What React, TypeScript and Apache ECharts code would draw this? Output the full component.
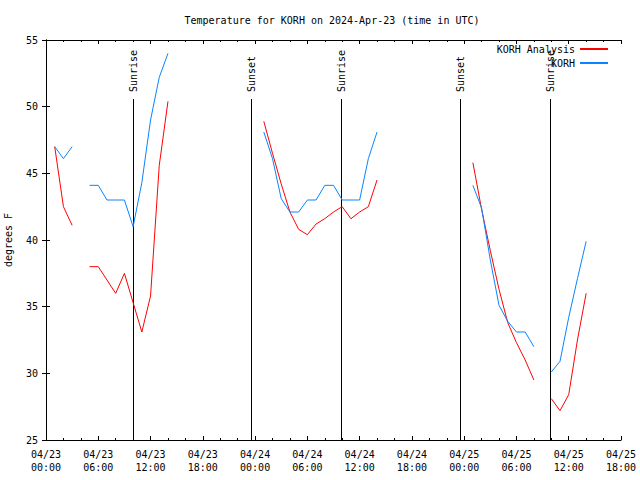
import React, { useEffect, useRef } from "react";
import * as echarts from "echarts";

// Hours since 2024-04-23 00:00 UTC
const hours: number[] = Array.from({ length: 63 }, (_, i) => i);

// KORH Analysis (red)
const analysis: (number | null)[] = [
  null, 47.0, 42.5, 41.1, null, 38.0, 38.0, 37.0, 36.0, 37.5, 35.3, 33.1, 35.8, 45.6, 50.4,
  null, null, null, null, null, null, null, null, null, null,
  48.9, 46.5, 44.2, 42.1, 40.8, 40.4, 41.2, 41.6, 42.1, 42.5, 41.6, 42.1, 42.5, 44.5,
  null, null, null, null, null, null, null, null, null, null,
  45.8, 42.3, 39.2, 36.3, 33.8, 32.3, 31.0, 29.5,
  null,
  28.1, 27.2, 28.4, 32.5, 36.0,
];

// KORH observations (blue)
const observed: (number | null)[] = [
  null, 47.0, 46.1, 47.0, null, 44.1, 44.1, 43.0, 43.0, 43.0, 41.0, 44.3, 49.0, 52.2, 54.0,
  null, null, null, null, null, null, null, null, null, null,
  48.1, 46.1, 43.1, 42.1, 42.1, 43.0, 43.0, 44.1, 44.1, 43.0, 43.0, 43.0, 46.1, 48.1,
  null, null, null, null, null, null, null, null, null, null,
  44.1, 42.4, 38.5, 35.1, 33.9, 33.1, 33.1, 32.0,
  null,
  30.1, 30.9, 34.2, 37.1, 39.9,
];

// Sun events (hours since 2024-04-23 00:00 UTC)
const eventHours: number[] = [9.93, 23.55, 33.9, 47.57, 57.87];
const eventNames: string[] = ["Sunrise", "Sunset", "Sunrise", "Sunset", "Sunrise"];

const seriesNames = ["KORH Analysis", "KORH"];
const seriesColors = ["#ff0000", "#0a84ff"];

const FONT = "DejaVu Sans Mono";
const pad = (n: number) => (n < 10 ? "0" + n : "" + n);

export default function App() {
  const ref = useRef<HTMLDivElement>(null);
  useEffect(() => {
    if (!ref.current) return;
    const chart = echarts.init(ref.current, undefined, { renderer: "svg" });
    const toPairs = (arr: (number | null)[]) =>
      hours.map((h, i) => [h, arr[i] === null ? "-" : arr[i]]);
    const xFmt = (v: number) => {
      const d = new Date(Date.UTC(2024, 3, 23) + v * 3600 * 1000);
      return (
        pad(d.getUTCMonth() + 1) + "/" + pad(d.getUTCDate()) + "\n" +
        pad(d.getUTCHours()) + ":" + pad(d.getUTCMinutes())
      );
    };
    const axisLine = { show: true, lineStyle: { color: "#000", width: 1 } };
    const tickStyle = { color: "#000", width: 1 };
    chart.setOption({
      animation: false,
      backgroundColor: "#fff",
      title: {
        text: "Temperature for KORH on 2024-Apr-23 (time in UTC)",
        left: 332,
        top: 15,
        textAlign: "center",
        padding: 0,
        textStyle: { fontFamily: FONT, fontSize: 10, fontWeight: "normal", color: "#000" },
      },
      legend: {
        data: seriesNames,
        orient: "vertical",
        right: 31,
        top: 44,
        padding: 0,
        align: "right",
        itemWidth: 28,
        itemHeight: 10,
        itemGap: 4,
        itemStyle: { opacity: 0 },
        textStyle: { fontFamily: FONT, fontSize: 10, color: "#000" },
      },
      grid: { left: 46, right: 19, top: 40, bottom: 40, containLabel: false, outerBoundsMode: "none" },
      xAxis: [
        {
          type: "value",
          min: 0,
          max: 66,
          interval: 6,
          position: "bottom",
          axisLine,
          axisTick: { show: true, inside: true, length: 4, lineStyle: tickStyle },
          minorTick: { show: true, splitNumber: 3, length: 2, lineStyle: tickStyle },
          splitLine: { show: false },
          axisLabel: {
            formatter: xFmt,
            fontFamily: FONT,
            fontSize: 10,
            color: "#000",
            lineHeight: 13,
            margin: 8,
          },
        },
        {
          type: "value",
          min: 0,
          max: 66,
          interval: 6,
          position: "top",
          axisLine,
          axisTick: { show: true, inside: true, length: 4, lineStyle: tickStyle },
          minorTick: { show: true, splitNumber: 3, length: 2, lineStyle: tickStyle },
          splitLine: { show: false },
          axisLabel: { show: false },
        },
      ],
      yAxis: [
        {
          type: "value",
          min: 25,
          max: 55,
          interval: 5,
          position: "left",
          name: "degrees F",
          nameLocation: "middle",
          nameRotate: 90,
          nameGap: 33,
          nameTextStyle: { fontFamily: FONT, fontSize: 10, color: "#000" },
          axisLine,
          axisTick: { show: true, inside: true, length: 4, lineStyle: tickStyle },
          splitLine: { show: false },
          axisLabel: { fontFamily: FONT, fontSize: 10, color: "#000", margin: 8 },
        },
        {
          type: "value",
          min: 25,
          max: 55,
          interval: 5,
          position: "right",
          axisLine,
          axisTick: { show: true, inside: true, length: 4, lineStyle: tickStyle },
          splitLine: { show: false },
          axisLabel: { show: false },
        },
      ],
      series: [
        {
          name: seriesNames[0],
          type: "line",
          data: toPairs(analysis),
          symbol: "none",
          connectNulls: false,
          color: seriesColors[0],
          lineStyle: { width: 1, color: seriesColors[0] },
        },
        {
          name: seriesNames[1],
          type: "line",
          data: toPairs(observed),
          symbol: "none",
          connectNulls: false,
          color: seriesColors[1],
          lineStyle: { width: 1, color: seriesColors[1] },
        },
        {
          name: "sun",
          type: "custom",
          data: eventHours.map((h, i) => [h, i]),
          encode: { x: 0 },
          silent: true,
          renderItem: (params: any, api: any) => {
            const x = api.value(0);
            const idx = api.value(1);
            const bottom = api.coord([x, 25]);
            const top = api.coord([x, 55]);
            const px = Math.round(bottom[0]) + 0.5;
            const lineTop = top[1] + 59;
            return {
              type: "group",
              children: [
                {
                  type: "line",
                  shape: { x1: px, y1: bottom[1], x2: px, y2: lineTop },
                  style: { stroke: "#000", lineWidth: 1 },
                },
                {
                  type: "text",
                  x: px,
                  y: lineTop - 7,
                  rotation: Math.PI / 2,
                  style: {
                    text: eventNames[idx],
                    font: "10px " + FONT,
                    fill: "#000",
                    align: "left",
                    verticalAlign: "middle",
                  },
                },
              ],
            };
          },
        },
      ],
    });
    return () => chart.dispose();
  }, []);
  return (
    <div
      ref={ref}
      style={{ position: "fixed", left: 0, top: 0, width: 640, height: 480, background: "#fff" }}
    />
  );
}
